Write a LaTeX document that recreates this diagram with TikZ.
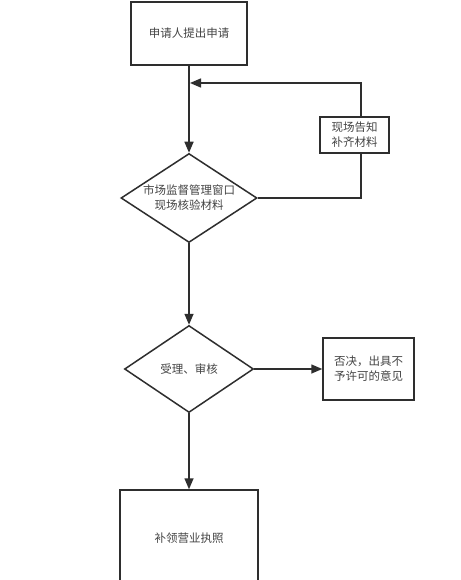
\documentclass[tikz,border=0pt]{standalone}
\usepackage{fontspec}
\newfontfamily\cjk{Noto Sans CJK SC}
\usetikzlibrary{shapes.geometric,arrows.meta}
\definecolor{linec}{HTML}{2E2E2E}
\definecolor{textc}{HTML}{444444}
\begin{document}
\begin{tikzpicture}[x=1pt,y=-1pt,
  every node/.style={font=\cjk\fontsize{11.5}{15}\selectfont, text=textc, align=center},
  boxnode/.style={draw=linec, line width=1.5pt, rectangle, inner sep=0pt},
  dianode/.style={draw=linec, line width=1.5pt, diamond, inner sep=0pt, aspect=1.5},
  conn/.style={draw=linec, line width=1.5pt},
  arr/.style={conn, -{Triangle[length=11pt,width=9pt]}}]
\clip (0,0) rectangle (460,580);
\fill[white] (0,0) rectangle (460,580);
\node[boxnode, minimum width=116pt, minimum height=63pt] (a) at (189,33.5) {申请人提出申请};
\node[dianode, minimum width=136pt, minimum height=89pt] (b) at (189,198) {市场监督管理窗口\\现场核验材料};
\node[boxnode, minimum width=69pt, minimum height=36pt] (c) at (354.5,135) {现场告知\\补齐材料};
\node[dianode, minimum width=129pt, minimum height=87pt] (d) at (189,369) {受理、审核};
\node[boxnode, minimum width=91pt, minimum height=62pt] (e) at (368.5,369) {否决，出具不\\予许可的意见};
\node[boxnode, minimum width=138pt, minimum height=96pt] (f) at (189,538) {补领营业执照};
\coordinate (k1) at (361,198);
\coordinate (k2) at (361,83);
\coordinate (m) at (190,83);
\draw[arr] (a.south) -- (b.north);
\draw[conn] (b.east) -- (k1) -- (k1 |- c.south);
\draw[arr] (k2 |- c.north) -- (k2) -- (m);
\draw[arr] (b.south) -- (d.north);
\draw[arr] (d.east) -- (e.west);
\draw[arr] (d.south) -- (f.north);
\end{tikzpicture}
\end{document}
